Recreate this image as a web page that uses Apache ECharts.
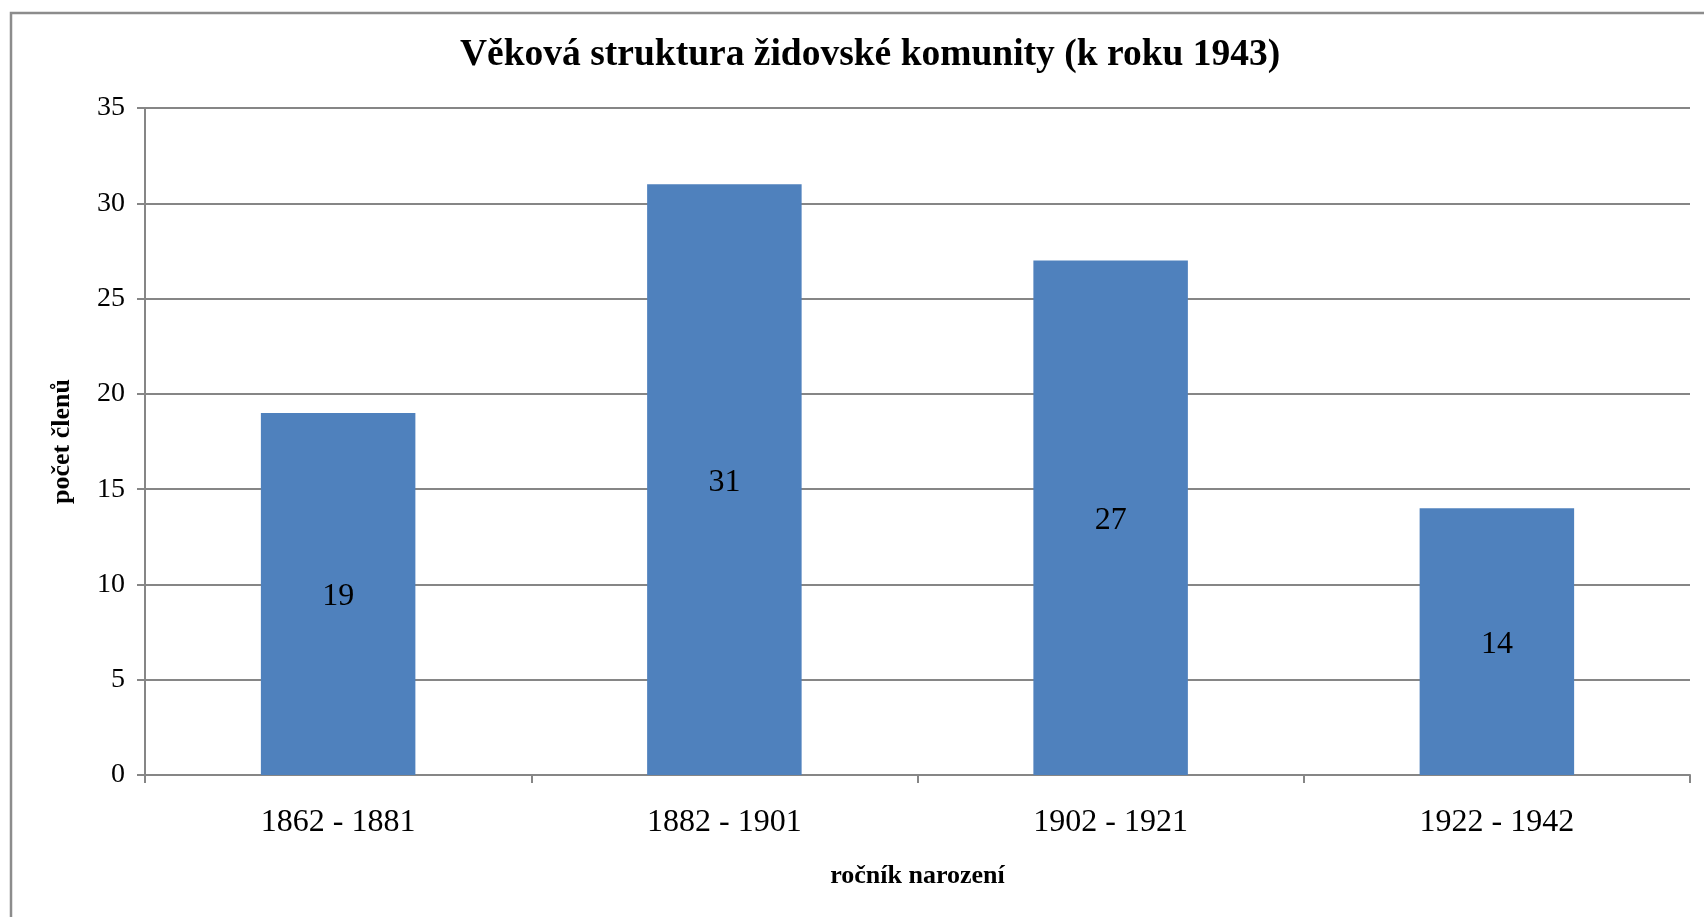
<!DOCTYPE html>
<html>
<head>
<meta charset="utf-8">
<script src="https://cdn.jsdelivr.net/npm/echarts@6/dist/echarts.min.js"></script>
<style>html,body{margin:0;padding:0;background:#fff}#c{width:1704px;height:917px}</style>
</head>
<body>
<div id="c"></div>
<script>
const titleText = 'Věková struktura židovské komunity (k roku 1943)';
const categories = ['1862 - 1881', '1882 - 1901', '1902 - 1921', '1922 - 1942'];
const values = [19, 31, 27, 14];
const yAxisName = 'počet členů';
const xAxisName = 'ročník narození';

const chart = echarts.init(document.getElementById('c'));
const serif = '"Liberation Serif", "DejaVu Serif", serif';
chart.setOption({
  backgroundColor: '#fff',
  animation: false,
  title: {
    text: titleText, left: 455, top: 31,
    textStyle: { fontFamily: serif, fontSize: 37.5, fontWeight: 'bold', color: '#000' }
  },
  graphic: [{
    type: 'rect', shape: { x: 11, y: 13, width: 1720, height: 940 },
    style: { fill: 'none', stroke: '#8c8c8c', lineWidth: 2.5 }
  }],
  grid: { left: 145, right: 14, top: 108, bottom: 142 },
  xAxis: {
    type: 'category', data: categories,
    name: xAxisName, nameLocation: 'middle', nameGap: 88,
    nameTextStyle: { fontFamily: serif, fontSize: 26, fontWeight: 'bold', color: '#000' },
    axisLine: { lineStyle: { color: '#868686', width: 2 } },
    axisTick: { show: true, length: 8, lineStyle: { color: '#868686', width: 2 } },
    axisLabel: { fontFamily: serif, fontSize: 32, color: '#000', margin: 32 }
  },
  yAxis: {
    type: 'value', min: 0, max: 35, interval: 5,
    name: yAxisName, nameLocation: 'middle', nameGap: 70,
    nameTextStyle: { fontFamily: serif, fontSize: 26, fontWeight: 'bold', color: '#000' },
    axisLine: { show: true, lineStyle: { color: '#868686', width: 2 } },
    axisTick: { show: true, length: 8, lineStyle: { color: '#868686', width: 2 } },
    axisLabel: { fontFamily: serif, fontSize: 28, color: '#000', margin: 20 },
    splitLine: { lineStyle: { color: '#868686', width: 2 } }
  },
  series: [{
    type: 'bar', data: values, barCategoryGap: '60%',
    itemStyle: { color: '#4F81BD' },
    label: { show: true, position: 'inside', offset: [0, 3], fontFamily: serif, fontSize: 32, color: '#000' }
  }]
});
</script>
</body>
</html>
